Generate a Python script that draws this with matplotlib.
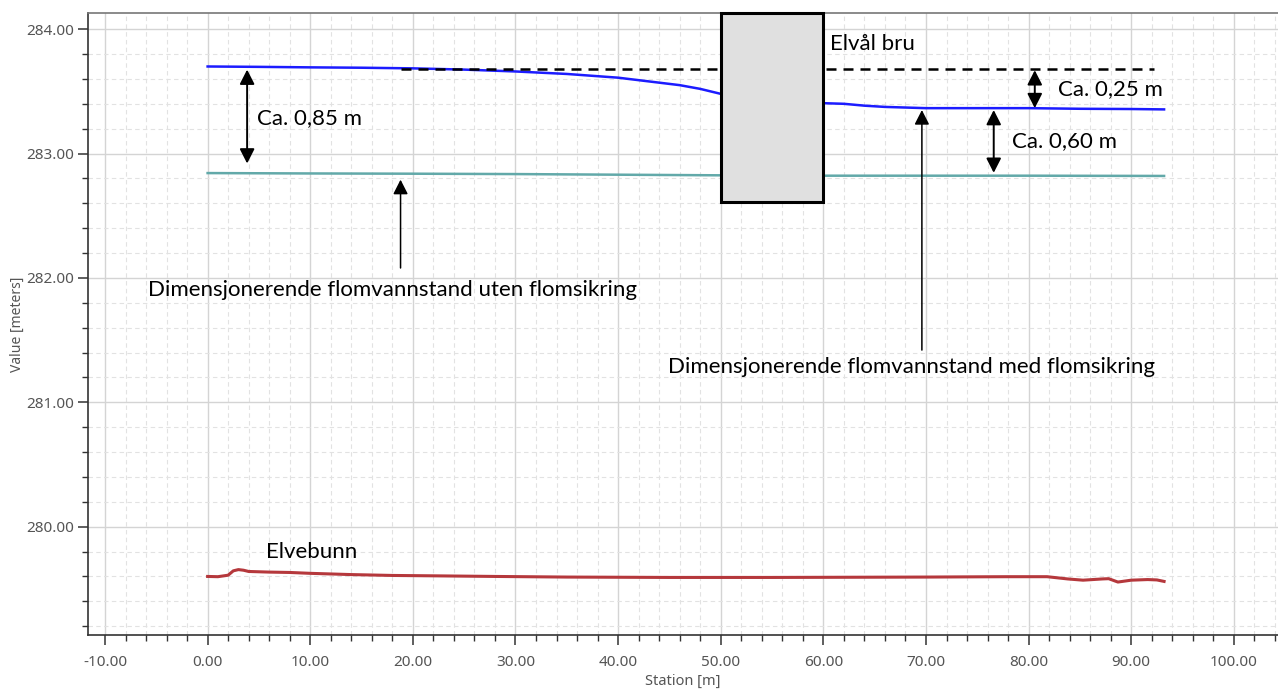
import matplotlib
matplotlib.use("Agg")
import matplotlib.pyplot as plt
from matplotlib.patches import Rectangle
from matplotlib.ticker import MultipleLocator, FormatStrFormatter

# water level with flood protection (blue)
med_station = [0, 5, 10, 15, 20, 25, 30, 35, 40, 43, 46, 48, 50, 55, 60, 62, 64, 66,
               70, 75, 80, 85, 90, 93.2]
med_level = [283.70, 283.697, 283.693, 283.69, 283.685, 283.675, 283.66, 283.64, 283.61,
             283.58, 283.55, 283.52, 283.48, 283.43, 283.405, 283.40, 283.385, 283.375,
             283.365, 283.365, 283.365, 283.36, 283.358, 283.355]

# water level without flood protection (teal)
uten_station = [0, 10, 20, 30, 40, 50, 60, 70, 80, 93.2]
uten_level = [282.843, 282.840, 282.838, 282.835, 282.83, 282.825, 282.822, 282.822,
              282.822, 282.82]

# river bed
bunn_station = [0, 1, 2, 2.5, 3, 3.5, 4, 6, 8, 10, 14, 18, 22, 28, 35, 45, 55, 65, 70,
                75, 78, 81.8, 83.8, 85.3, 87.2, 87.8, 88.7, 90.0, 91.6, 92.5, 93.2]
bunn_level = [279.60, 279.598, 279.61, 279.645, 279.655, 279.65, 279.64, 279.635,
              279.632, 279.625, 279.615, 279.608, 279.605, 279.6, 279.595, 279.592,
              279.592, 279.594, 279.595, 279.597, 279.598, 279.598, 279.58, 279.57,
              279.58, 279.582, 279.555, 279.57, 279.575, 279.572, 279.56]

# dashed reference level (bridge)
ref_station = [18.8, 92.2]
ref_level = [283.676, 283.676]

fig = plt.figure(figsize=(12.78, 6.91), dpi=100)
ax = fig.add_axes([0.0689, 0.081, 0.9311, 0.900])

ax.set_xlim(-11.65, 104.3)
ax.set_ylim(279.129, 284.129)

ax.xaxis.set_major_locator(MultipleLocator(10))
ax.xaxis.set_minor_locator(MultipleLocator(2))
ax.yaxis.set_major_locator(MultipleLocator(1))
ax.yaxis.set_minor_locator(MultipleLocator(0.2))
ax.xaxis.set_major_formatter(FormatStrFormatter('%.2f'))
ax.yaxis.set_major_formatter(FormatStrFormatter('%.2f'))

ax.grid(which='major', color='#d4d4d4', lw=1.0, ls='-')
ax.grid(which='minor', color='#e2e2e2', lw=0.8, ls=(0, (4, 3)))
ax.set_axisbelow(True)

for s in ['left', 'bottom', 'top']:
    ax.spines[s].set_color('#333333')
    ax.spines[s].set_linewidth(1.2)
ax.spines['top'].set_color('#777777')
ax.spines['right'].set_visible(False)

tickfont = 'Noto Sans'
ax.tick_params(which='major', direction='out', length=7, width=1.1, color='#333333',
               labelcolor='#555555', labelsize=11)
ax.tick_params(axis='x', which='major', pad=7.5)
ax.tick_params(axis='y', which='major', pad=3)
ax.tick_params(which='minor', direction='out', length=4, width=1.0, color='#333333')
for lab in ax.get_xticklabels() + ax.get_yticklabels():
    lab.set_family(tickfont)
ax.set_xlabel('Station [m]', fontsize=10.5, color='#555555', family=tickfont, labelpad=3)
ax.set_ylabel('Value [meters]', fontsize=10, color='#555555', family=tickfont, labelpad=1)

ax.plot(bunn_station, bunn_level, color='#b5383c', lw=2.2, zorder=3)
ax.plot(uten_station, uten_level, color='#62a9a9', lw=1.8, zorder=3)
ax.plot(med_station, med_level, color='#1c1cff', lw=1.8, zorder=3)
ax.plot(ref_station, ref_level, color='black', lw=1.8, ls=(0, (4, 2.8)), zorder=4)

# bridge
ax.add_patch(Rectangle((50, 282.61), 10, 284.129 - 282.61, facecolor='#e0e0e0',
                       edgecolor='black', lw=2.2, zorder=5, clip_on=False))

tf = 'Lato'
ts = 16
ax.text(60.6, 283.88, 'Elvål bru', fontsize=ts, family=tf, va='center', ha='left')
ax.text(5.65, 279.80, 'Elvebunn', fontsize=ts, family=tf, va='center', ha='left')
ax.text(4.8, 283.285, 'Ca. 0,85 m', fontsize=ts, family=tf, va='center', ha='left')
ax.text(82.9, 283.52, 'Ca. 0,25 m', fontsize=ts, family=tf, va='center', ha='left')
ax.text(78.4, 283.10, 'Ca. 0,60 m', fontsize=ts, family=tf, va='center', ha='left')
ax.text(-5.85, 281.9, 'Dimensjonerende flomvannstand uten flomsikring', fontsize=ts,
        family=tf, va='center', ha='left')
ax.text(44.9, 281.285, 'Dimensjonerende flomvannstand med flomsikring', fontsize=ts,
        family=tf, va='center', ha='left')

dbl = dict(arrowstyle='<|-|>,head_length=0.55,head_width=0.28', color='black', lw=1.4,
           mutation_scale=16, shrinkA=0, shrinkB=0)
sgl = dict(arrowstyle='-|>,head_length=0.55,head_width=0.28', color='black', lw=1.1,
           mutation_scale=16, shrinkA=0, shrinkB=0)
ax.annotate('', xy=(3.85, 283.675), xytext=(3.85, 282.92), arrowprops=dbl, zorder=6)
ax.annotate('', xy=(80.6, 283.67), xytext=(80.6, 283.365), arrowprops=dbl, zorder=6)
ax.annotate('', xy=(76.6, 283.35), xytext=(76.6, 282.845), arrowprops=dbl, zorder=6)
ax.annotate('', xy=(18.8, 282.79), xytext=(18.8, 282.08), arrowprops=sgl, zorder=6)
ax.annotate('', xy=(69.6, 283.35), xytext=(69.6, 281.42), arrowprops=sgl, zorder=6)

fig.savefig('out.png', dpi=100)
